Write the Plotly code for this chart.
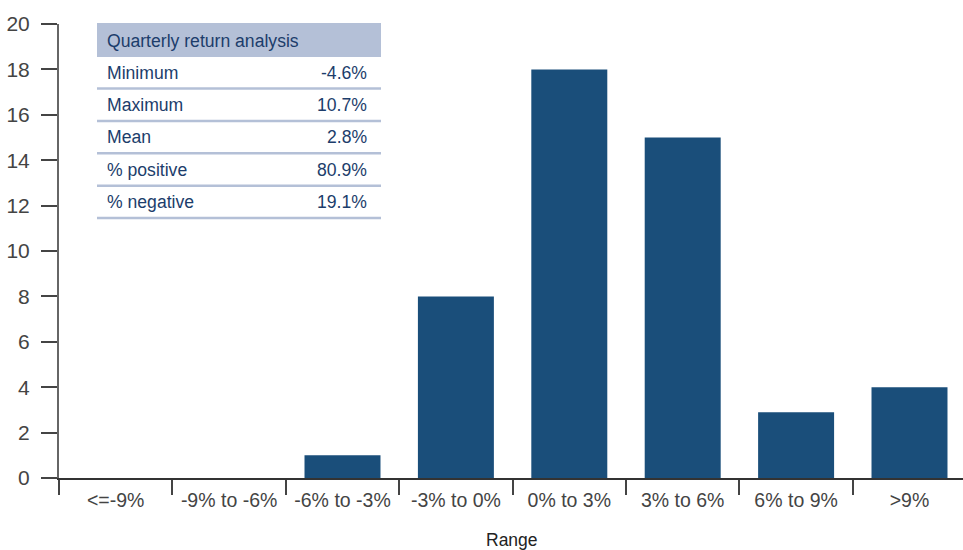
import plotly.graph_objects as go

# Histogram of quarterly returns
ranges = ["<=-9%", "-9% to -6%", "-6% to -3%", "-3% to 0%",
          "0% to 3%", "3% to 6%", "6% to 9%", ">9%"]
counts = [0, 0, 1, 8, 18, 15, 2.9, 4]

# Summary statistics table
stat_names = ["Minimum", "Maximum", "Mean", "% positive", "% negative"]
stat_values = ["-4.6%", "10.7%", "2.8%", "80.9%", "19.1%"]
table_title = "Quarterly return analysis"

W, H = 963, 550
L, R, T, B = 59, 0, 24, 72
BAR = "#1a4e7a"
NAVY = "#1c3d6b"
HEAD = "#b4c0d7"
FONT = "Liberation Sans, Arial, sans-serif"

plot_w = W - L - R
plot_h = H - T - B


def px(x):
    return (x - L) / plot_w


def py(y):
    return (H - B - y) / plot_h


fig = go.Figure(go.Bar(
    x=ranges, y=counts, marker_color=BAR, marker_line_width=0,
    width=0.67, showlegend=False, hoverinfo="x+y",
))

shapes = []
annotations = []

# table header band
shapes.append(dict(type="rect", xref="paper", yref="paper",
                   x0=px(97), x1=px(381), y0=py(57), y1=py(23),
                   fillcolor=HEAD, line_width=0, layer="above"))
annotations.append(dict(xref="paper", yref="paper", x=px(105), y=py(41),
                        text=table_title, showarrow=False, xanchor="left",
                        yanchor="middle",
                        font=dict(family=FONT, size=17.6, color=NAVY)))

row_h = 32.4
first_center = 72.5
for i, (name, val) in enumerate(zip(stat_names, stat_values)):
    yc = first_center + i * row_h
    annotations.append(dict(xref="paper", yref="paper", x=px(105), y=py(yc),
                            text=name, showarrow=False, xanchor="left",
                            yanchor="middle",
                            font=dict(family=FONT, size=17.6, color=NAVY)))
    annotations.append(dict(xref="paper", yref="paper", x=px(369), y=py(yc),
                            text=val, showarrow=False, xanchor="right",
                            yanchor="middle",
                            font=dict(family=FONT, size=17.6, color=NAVY)))
    ly = yc + 16
    shapes.append(dict(type="line", xref="paper", yref="paper",
                       x0=px(97), x1=px(381), y0=py(ly), y1=py(ly),
                       line=dict(color=HEAD, width=2.5), layer="above"))

annotations.append(dict(xref="paper", yref="paper", x=px(512), y=py(540),
                        text="Range", showarrow=False, xanchor="center",
                        yanchor="middle",
                        font=dict(family=FONT, size=17.5, color="#222")))

fig.update_layout(
    width=W, height=H,
    margin=dict(l=L, r=R, t=T, b=B, pad=0),
    paper_bgcolor="white", plot_bgcolor="white",
    shapes=shapes, annotations=annotations,
    xaxis=dict(
        type="category", range=[-0.5, -0.5 + plot_w / 113.4],
        showgrid=False, zeroline=False,
        showline=True, linecolor="#333", linewidth=1.5,
        ticks="outside", tickson="boundaries", ticklen=15,
        tickcolor="#444", tickwidth=1.5,
        ticklabelstandoff=4,
        tickfont=dict(family=FONT, size=19.5, color="#444"),
        fixedrange=True,
    ),
    yaxis=dict(
        range=[0, 20], dtick=2, tick0=0,
        showgrid=False, zeroline=False,
        showline=True, linecolor="#666", linewidth=2,
        ticks="outside", ticklen=16, tickcolor="#444", tickwidth=1.5,
        ticklabelstandoff=7,
        tickfont=dict(family=FONT, size=21, color="#444"),
        fixedrange=True,
    ),
    font=dict(family=FONT),
)

fig.write_html("out.html")
